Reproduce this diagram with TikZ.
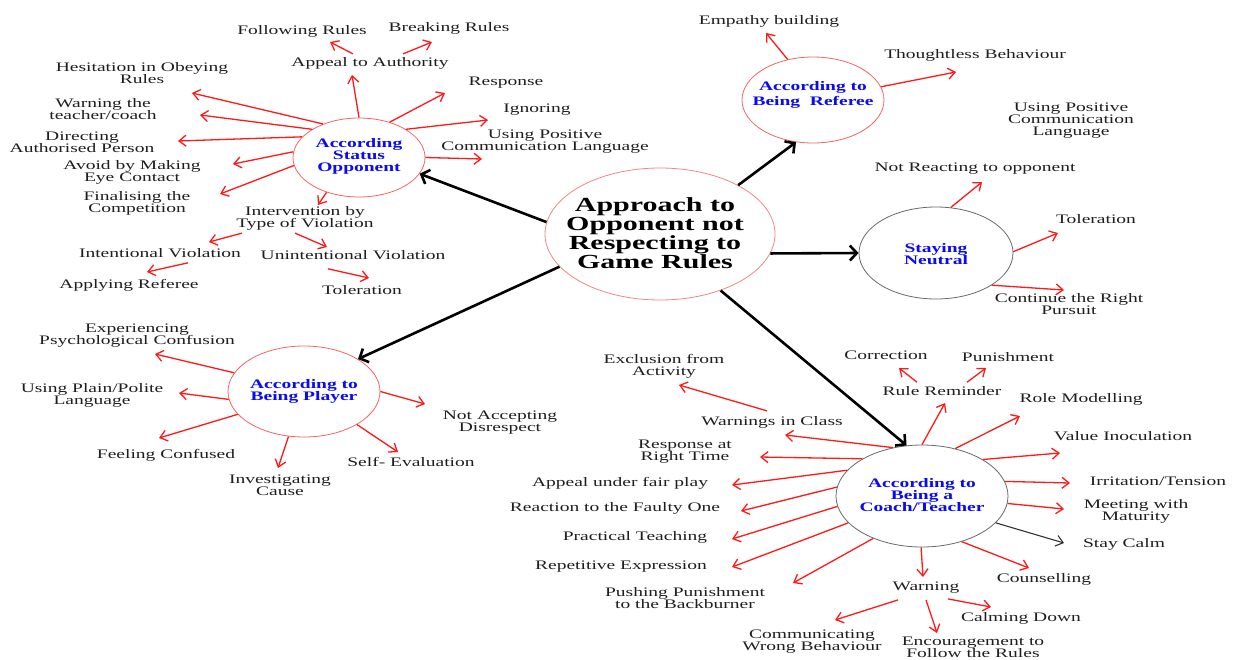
\documentclass[tikz,border=0pt]{standalone}
\usepackage{fontspec}
\setmainfont{Liberation Serif}[FakeStretch=1.5]
\usetikzlibrary{shapes.geometric,arrows.meta}

\definecolor{lineRed}{RGB}{255,25,25}
\definecolor{rimRed}{RGB}{245,100,100}
\definecolor{rimPink}{RGB}{240,135,135}
\definecolor{rimGray}{RGB}{105,105,105}
\definecolor{labelInk}{RGB}{30,30,30}
\definecolor{hubBlue}{RGB}{10,10,245}

\tikzset{
  lbl/.style={inner sep=1pt, align=center, text=labelInk, font=\fontsize{13}{12}\selectfont},
  hubtxt/.style={inner sep=0pt, align=center, text=hubBlue, font=\fontsize{13}{12}\selectfont\bfseries},
  bubble/.style={ellipse, draw=rimRed, line width=0.8pt, inner sep=0pt},
  ra/.style={draw=lineRed, line width=1.3pt, -{Straight Barb[length=7pt,width=11pt]}},
  ka/.style={draw=black!80, line width=1.1pt, -{Straight Barb[length=7pt,width=11pt]}},
  ba/.style={draw=black, line width=2.6pt, -{Straight Barb[length=7pt,width=15pt]}},
}

\begin{document}
\begin{tikzpicture}[x=1pt,y=-1pt]
\fill[white] (0,0) rectangle (1238,659);
\useasboundingbox (0,0) rectangle (1238,659);

% ---------- central topic and the five approaches ----------
\node[bubble, draw=rimPink, minimum width=230pt, minimum height=132pt] (root) at (660,234) {};
\node[inner sep=0pt, align=center, text=black, font=\fontsize{20}{19}\selectfont\bfseries] (rootTxt) at (655,233)
  {Approach to\\Opponent not\\Respecting to\\Game Rules};

\node[bubble, minimum width=132pt, minimum height=79pt] (so) at (359,157.5) {};
\node[hubtxt] (soTxt) at (359,156.5) {According\\Status\\Opponent};

\node[bubble, minimum width=142pt, minimum height=86pt] (rf) at (813,100) {};
\node[hubtxt] (rfTxt) at (813,95) {According to\\[2.5pt]Being~ Referee};

\node[bubble, draw=rimGray, minimum width=154pt, minimum height=92pt] (nu) at (936,253) {};
\node[hubtxt] (nuTxt) at (936,254) {Staying\\Neutral};

\node[bubble, minimum width=152pt, minimum height=91pt] (pl) at (304,391.5) {};
\node[hubtxt] (plTxt) at (304,391.5) {According to\\Being Player};

\node[bubble, draw=rimGray, minimum width=172pt, minimum height=102pt] (co) at (922,496) {};
\node[hubtxt] (coTxt) at (922,495.5) {According to\\Being a\\Coach/Teacher};

% main branches
\draw[ba] (root.174) -- (so.345);
\draw[ba] (root.32) -- (rf.248);
\draw[ba] (root.350) -- (nu.180);
\draw[ba] (root.198) -- (pl.31);
\draw[ba] (root.317) -- (co.107);

% ---------- status opponent ----------
\node[lbl] (follow) at (302,31) {Following Rules};
\node[lbl] (breaking) at (449,28) {Breaking Rules};
\node[lbl] (appeal) at (370,63) {Appeal to Authority};
\node[lbl] (response) at (506,83) {Response};
\node[lbl] (ignoring) at (537,110) {Ignoring};
\node[lbl] (usePos) at (545,142) {Using Positive\\Communication Language};
\node[lbl] (hesitation) at (142,73) {Hesitation in Obeying\\Rules};
\node[lbl] (warnCoach) at (103,109) {Warning the\\teacher/coach};
\node[lbl] (directing) at (82,142) {Directing\\Authorised Person};
\node[lbl] (avoid) at (132,172) {Avoid by Making\\Eye Contact};
\node[lbl] (finalise) at (137,203) {Finalising the\\Competition};
\node[lbl] (intervene) at (305,218) {Intervention by\\Type of Violation};
\node[lbl] (intentional) at (160,253) {Intentional Violation};
\node[lbl] (unintentional) at (353,255) {Unintentional Violation};
\node[lbl] (applyRef) at (129,285) {Applying Referee};
\node[lbl] (tolerA) at (362,290) {Toleration};

\coordinate (tAppeal) at (352,75);
\coordinate (tFollow) at (330,42);
\coordinate (tBreaking) at (432,42);
\coordinate (tHes) at (192,93);
\coordinate (tWarnCoach) at (200,115);
\coordinate (tDir) at (178,141);
\coordinate (tAvoid) at (233,164);
\coordinate (tFin) at (220,194);
\coordinate (tInterv) at (318,205);
\coordinate (tResp) at (445,93);
\coordinate (tIgn) at (488,120);
\coordinate (tUsePos) at (482,159);
\coordinate (tIntent) at (209,242);
\coordinate (tUnintent) at (327,247);
\coordinate (tApply) at (147,272);
\coordinate (tTolerA) at (369,278);

\draw[ra] (so.90) -- (tAppeal);
\draw[ra] (so.137) -- (tHes);
\draw[ra] (so.149) -- (tWarnCoach);
\draw[ra] (so.160) -- (tDir);
\draw[ra] (so.175) -- (tAvoid);
\draw[ra] (so.187) -- (tFin);
\draw[ra] (so.227) -- (tInterv);
\draw[ra] (so.49) -- (tResp);
\draw[ra] (so.31) -- (tIgn);
\draw[ra] (so.0) -- (tUsePos);
\draw[ra] ([xshift=-17pt,yshift=2pt]appeal.north) -- (tFollow);
\draw[ra] ([xshift=33pt,yshift=2pt]appeal.north) -- (tBreaking);
\draw[ra] ([xshift=-63pt,yshift=-2pt]intervene.south) -- (tIntent);
\draw[ra] ([xshift=-10pt,yshift=-2pt]intervene.south) -- (tUnintent);
\draw[ra] ([xshift=28pt,yshift=-4pt]intentional.south) -- (tApply);
\draw[ra] ([xshift=-25pt,yshift=-8pt]unintentional.south) -- (tTolerA);

% ---------- being player ----------
\node[lbl] (experiencing) at (137,336) {Experiencing\\Psychological Confusion};
\node[lbl] (plain) at (92,395) {Using Plain/Polite\\Language};
\node[lbl] (confused) at (166,455) {Feeling Confused};
\node[lbl] (investigate) at (280,485) {Investigating\\Cause};
\node[lbl] (selfEval) at (411,462) {Self- Evaluation};
\node[lbl] (notAccept) at (500,423) {Not Accepting\\Disrespect};

\coordinate (tExp) at (155,354);
\coordinate (tPlain) at (179,393);
\coordinate (tConf) at (159,438);
\coordinate (tInv) at (278,468);
\coordinate (tSelf) at (398,452);
\coordinate (tNotAcc) at (425,404);

\draw[ra] (pl.165) -- (tExp);
\draw[ra] (pl.186) -- (tPlain);
\draw[ra] (pl.199) -- (tConf);
\draw[ra] (pl.251) -- (tInv);
\draw[ra] (pl.328) -- (tSelf);
\draw[ra] (pl.0) -- (tNotAcc);

% ---------- being referee ----------
\node[lbl] (empathy) at (769,21) {Empathy building};
\node[lbl] (thoughtless) at (975,55) {Thoughtless Behaviour};

\coordinate (tEmp) at (766,33);
\coordinate (tThought) at (956,72);

\draw[ra] (rf.122) -- (tEmp);
\draw[ra] (rf.11) -- (tThought);

% ---------- staying neutral ----------
\node[lbl] (usePosB) at (1071,121) {Using Positive\\Communication\\Language};
\node[lbl] (notReact) at (975,169) {Not Reacting to opponent};
\node[lbl] (tolerB) at (1096,219) {Toleration};
\node[lbl] (continue) at (1069,304) {Continue the Right\\Pursuit};

\coordinate (tNotReact) at (982,182);
\coordinate (tTolerB) at (1058,233);
\coordinate (tCont) at (1064,290);

\draw[ra] (nu.72) -- (tNotReact);
\draw[ra] (nu.1) -- (tTolerB);
\draw[ra] (nu.330) -- (tCont);

% ---------- coach / teacher ----------
\node[lbl] (exclusion) at (664,366) {Exclusion from\\Activity};
\node[lbl] (warnClass) at (772,422) {Warnings in Class};
\node[lbl] (rightTime) at (685,452) {Response at\\Right Time};
\node[lbl] (fairPlay) at (620,483) {Appeal under fair play};
\node[lbl] (faulty) at (615,508) {Reaction to the Faulty One};
\node[lbl] (practical) at (635,537) {Practical Teaching};
\node[lbl] (repetitive) at (621,567) {Repetitive Expression};
\node[lbl] (backburner) at (685,598) {Pushing Punishment\\to the Backburner};
\node[lbl] (wrongBeh) at (812,642) {Communicating\\Wrong Behaviour};
\node[lbl] (correction) at (886,355) {Correction};
\node[lbl] (punishment) at (1008,357) {Punishment};
\node[lbl] (ruleRem) at (942,391) {Rule Reminder};
\node[lbl] (roleModel) at (1081,399) {Role Modelling};
\node[lbl] (valueIno) at (1123,436) {Value Inoculation};
\node[lbl] (irritation) at (1158,481) {Irritation/Tension};
\node[lbl] (maturity) at (1136,511) {Meeting with\\Maturity};
\node[lbl] (stayCalm) at (1124,544) {Stay Calm};
\node[lbl] (counselling) at (1044,579) {Counselling};
\node[lbl] (warning) at (926,588) {Warning};
\node[lbl] (calming) at (1021,618) {Calming Down};
\node[lbl] (encourage) at (973,647) {Encouragement to\\Follow the Rules};

\coordinate (tExcl) at (679,385);
\coordinate (tWarnClass) at (785,435);
\coordinate (tRightTime) at (760,457);
\coordinate (tFair) at (732,485);
\coordinate (tFaulty) at (741,511);
\coordinate (tPract) at (732,539);
\coordinate (tRepet) at (732,567);
\coordinate (tBack) at (793,583);
\coordinate (tWrong) at (835,620);
\coordinate (tCorr) at (899,368);
\coordinate (tPun) at (986,368);
\coordinate (tRule) at (945,403);
\coordinate (tRole) at (1020,416);
\coordinate (tValue) at (1060,453);
\coordinate (tIrrit) at (1070,483);
\coordinate (tMat) at (1064,509);
\coordinate (tCalm) at (1064,543);
\coordinate (tCouns) at (1029,568);
\coordinate (tWarn) at (923,577);
\coordinate (tCalming) at (991,607);
\coordinate (tEnc) at (937,633);

\draw[ra] (co.121) -- (tWarnClass);
\draw[ra] (co.148) -- (tRightTime);
\draw[ra] (co.161) -- (tFair);
\draw[ra] (co.174) -- (tFaulty);
\draw[ra] (co.187) -- (tPract);
\draw[ra] (co.200) -- (tRepet);
\draw[ra] (co.221) -- (tBack);
\draw[ra] (co.269) -- (tWarn);
\draw[ra] (co.311) -- (tCouns);
\draw[ka] (co.340) -- (tCalm);
\draw[ra] (co.355) -- (tMat);
\draw[ra] (co.10) -- (tIrrit);
\draw[ra] (co.31) -- (tValue);
\draw[ra] (co.55) -- (tRole);
\draw[ra] (co.90) -- (tRule);
\draw[ra] ([xshift=-5pt,yshift=4pt]warnClass.north) -- (tExcl);
\draw[ra] ([xshift=-25pt,yshift=3pt]ruleRem.north) -- (tCorr);
\draw[ra] ([xshift=25pt,yshift=3pt]ruleRem.north) -- (tPun);
\draw[ra] ([xshift=-28pt,yshift=-5pt]warning.south) -- (tWrong);
\draw[ra] ([xshift=22pt,yshift=-4pt]warning.south) -- (tCalming);
\draw[ra] ([yshift=-5pt]warning.south) -- (tEnc);
\end{tikzpicture}
\end{document}
